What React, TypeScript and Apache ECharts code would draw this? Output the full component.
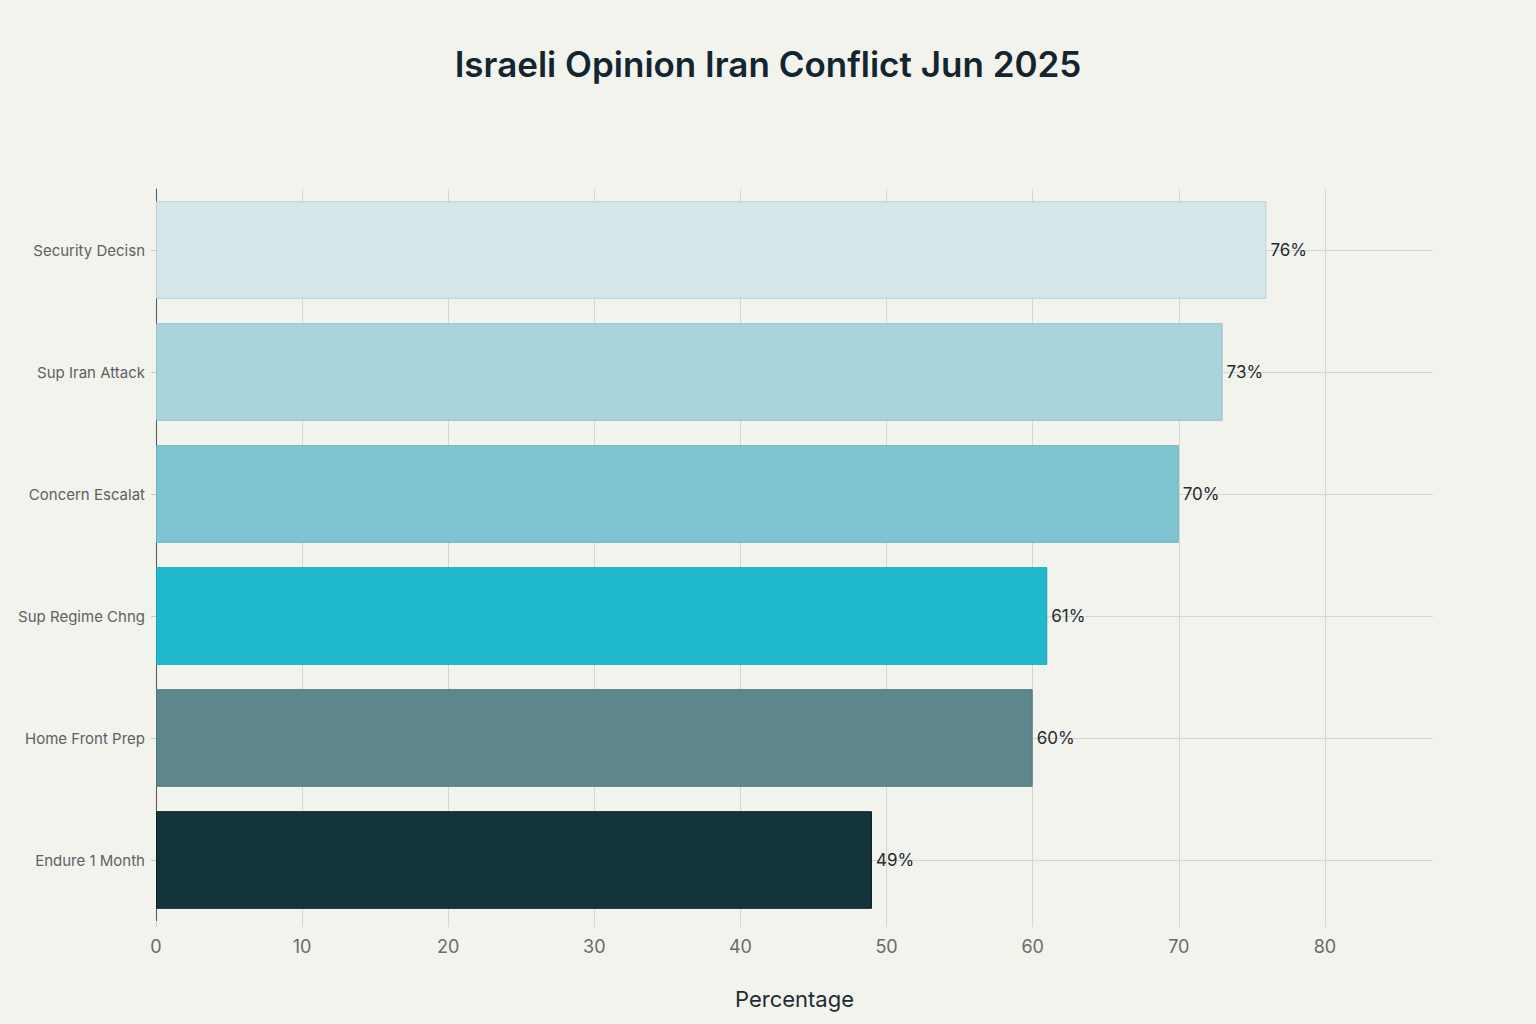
import React, { useEffect, useRef } from 'react';
import * as echarts from 'echarts';

// data
const categories = [
  'Security Decisn',
  'Sup Iran Attack',
  'Concern Escalat',
  'Sup Regime Chng',
  'Home Front Prep',
  'Endure 1 Month',
];
const values = [76, 73, 70, 61, 60, 49];
const barColors = ['#D5E7EB', '#AAD4DC', '#7FC4D2', '#20B8CC', '#5E878D', '#13343B'];
const barBorders = ['#B9CFD5', '#95C2CB', '#6AB2C0', '#14A3B6', '#4E767B', '#0A1E22'];

const App: React.FC = () => {
  const chartRef = useRef<HTMLDivElement>(null);

  useEffect(() => {
    if (!chartRef.current) return;

    document.body.style.margin = '0';
    document.body.style.background = '#F3F3EE';

    const chartInstance = echarts.init(chartRef.current, undefined, { renderer: 'svg' });

    const font = 'Inter, "Noto Sans", "DejaVu Sans", sans-serif';

    const option = {
      animation: false,
      backgroundColor: '#F3F3EE',
      textStyle: { fontFamily: font },
      title: {
        text: 'Israeli Opinion Iran Conflict Jun 2025',
        left: 'center',
        top: 41,
        textStyle: {
          fontFamily: font,
          fontSize: 35,
          fontWeight: 600,
          color: '#13252F',
        },
      },
      grid: {
        left: 156,
        right: 103,
        top: 189,
        bottom: 103,
        containLabel: false,
      },
      xAxis: {
        type: 'value',
        min: 0,
        max: 87.4,
        interval: 10,
        name: 'Percentage',
        nameLocation: 'middle',
        nameGap: 67,
        nameTextStyle: { fontSize: 22, color: '#1F2B30', fontFamily: font },
        axisLine: { show: false },
        axisTick: { show: true, length: 6, lineStyle: { color: '#D4D4D0' } },
        axisLabel: {
          fontSize: 18,
          color: '#6A6A6A',
          margin: 16,
          showMaxLabel: false,
        },
        splitLine: {
          show: true,
          showMaxLine: false,
          lineStyle: { color: '#D4D4D0', width: 1 },
        },
      },
      yAxis: {
        type: 'category',
        inverse: true,
        data: categories,
        axisLine: { show: true, lineStyle: { color: '#555555', width: 1 } },
        axisTick: {
          show: true,
          alignWithLabel: true,
          length: 5,
          lineStyle: { color: '#C8C8C4' },
        },
        axisLabel: { fontSize: 15, color: '#606060', margin: 11 },
        splitLine: {
          show: true,
          alignWithLabel: true,
          lineStyle: { color: '#D4D4D0', width: 1 },
        },
      },
      series: [
        {
          type: 'bar',
          data: values.map((v, i) => ({
            value: v,
            itemStyle: { color: barColors[i], borderColor: barBorders[i], borderWidth: 1 },
          })),
          barCategoryGap: '20%',
          label: {
            show: true,
            position: 'right',
            distance: 4,
            formatter: '{c}%',
            fontSize: 17,
            color: '#1E2A2E',
            fontFamily: font,
          },
        },
      ],
    };

    chartInstance.setOption(option);

    const handleResize = () => {
      chartInstance.resize();
    };
    window.addEventListener('resize', handleResize);

    return () => {
      window.removeEventListener('resize', handleResize);
      chartInstance.dispose();
    };
  }, []);

  return <div ref={chartRef} style={{ width: '1536px', height: '1024px' }} />;
};

export default App;
